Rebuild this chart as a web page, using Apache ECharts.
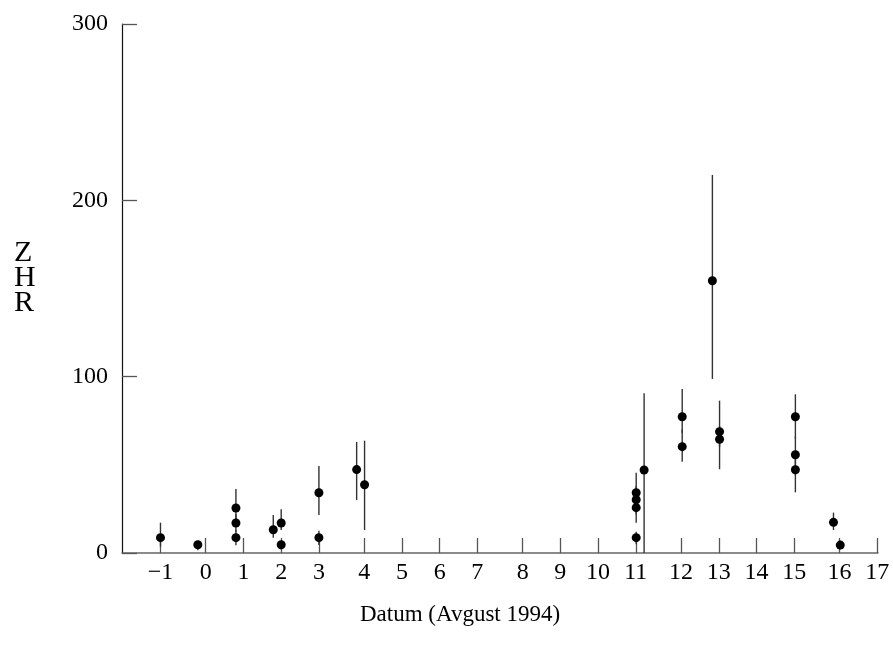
<!DOCTYPE html>
<html>
<head>
  <meta charset="utf-8">
  <title>ZHR</title>
  <script src="https://cdn.jsdelivr.net/npm/echarts@6/dist/echarts.min.js"></script>
  <style>
    html, body { margin: 0; padding: 0; background: #fff; }
    #main { width: 893px; height: 653px; }
  </style>
</head>
<body>
  <div id="main"></div>
  <script type="text/javascript">
    // tick positions on the x axis and their date labels
    var tickPos = [-1.2, 0, 1, 2, 3, 4.2, 5.2, 6.2, 7.2, 8.4, 9.4, 10.4, 11.4, 12.6, 13.6, 14.6, 15.6, 16.8, 17.8];
    var tickLabels = ['\u22121', '0', '1', '2', '3', '4', '5', '6', '7', '8', '9', '10', '11', '12', '13', '14', '15', '16', '17'];
    var yTicks = [0, 100, 200, 300];

    // observations: position, ZHR, lower and upper error
    var xPos    = [-1.2, -0.21, 0.8, 0.8, 0.8, 1.79, 2.0, 2.0, 3.0, 3.0, 4.0, 4.21, 11.41, 11.41, 11.41, 11.41, 11.62, 12.63, 12.63, 13.43, 13.62, 13.62, 15.63, 15.63, 15.63, 16.64, 16.82];
    var zhr     = [8.7, 4.7, 25.5, 17, 8.7, 13.2, 17, 4.7, 34.2, 8.7, 47.3, 38.7, 34.2, 30.2, 25.7, 8.7, 47.1, 77.3, 60.3, 154.4, 68.8, 64.5, 77.3, 55.7, 47.2, 17.4, 4.5];
    var zhrLow  = [3.6, 1.5, 19, 12, 4.4, 8.7, 13, 2, 21.5, 4.5, 30, 13, 28, 22, 17.2, 5, 0, 68, 51.8, 98.7, 60, 47.5, 65, 44, 34.4, 13, 2];
    var zhrHigh = [17.2, 7, 36.3, 22, 13, 21.5, 24.8, 7, 49.3, 12.6, 63, 63.7, 45.5, 38, 33, 12, 90.6, 93, 70, 214.4, 86.4, 72, 90, 66, 57, 22.9, 7];

    var points = xPos.map(function (x, i) { return [x, zhr[i]]; });
    var bars = xPos.map(function (x, i) { return [x, zhrLow[i], zhrHigh[i]]; });

    var font = '"Liberation Serif", "DejaVu Serif", serif';
    var myChart = echarts.init(document.getElementById('main'));

    var option = {
      animation: false,
      grid: { left: 122, right: 15, top: 24, bottom: 100 },
      xAxis: {
        type: 'value',
        min: -2.22,
        max: 17.82,
        axisLine: { onZero: false, lineStyle: { color: '#666', width: 1.5 } },
        axisTick: {
          inside: true, length: 15, customValues: tickPos,
          lineStyle: { color: '#555', width: 1.3 }
        },
        axisLabel: {
          customValues: tickPos,
          margin: 8,
          color: '#000',
          fontFamily: font,
          fontSize: 24,
          formatter: function (v) {
            var k = tickPos.indexOf(v);
            return k >= 0 ? tickLabels[k] : '';
          }
        },
        splitLine: { show: false }
      },
      yAxis: {
        type: 'value',
        min: 0,
        max: 300,
        interval: 100,
        axisLine: { show: true, onZero: false, lineStyle: { color: '#111', width: 1.2 } },
        axisTick: {
          show: true, inside: true, length: 15, customValues: yTicks,
          lineStyle: { color: '#555', width: 1.3 }
        },
        axisLabel: {
          customValues: yTicks,
          margin: 14,
          color: '#000',
          fontFamily: font,
          fontSize: 24
        },
        splitLine: { show: false }
      },
      graphic: [{
        type: 'text',
        left: 14,
        top: 238,
        style: {
          text: 'Z\nH\nR',
          fontFamily: font,
          fontSize: 30,
          lineHeight: 25,
          align: 'center',
          fill: '#000'
        }
      }, {
        type: 'text',
        left: 360,
        top: 603,
        style: {
          text: 'Datum (Avgust 1994)',
          fontFamily: font,
          fontSize: 23,
          fill: '#000'
        }
      }],
      series: [{
        type: 'custom',
        data: bars,
        encode: { x: 0, y: [1, 2] },
        renderItem: function (params, api) {
          var lo = api.coord([api.value(0), api.value(1)]);
          var hi = api.coord([api.value(0), api.value(2)]);
          return {
            type: 'line',
            shape: { x1: lo[0], y1: lo[1], x2: hi[0], y2: hi[1] },
            style: { stroke: '#333', lineWidth: 1.4 }
          };
        },
        z: 2
      }, {
        type: 'scatter',
        data: points,
        symbol: 'circle',
        symbolSize: 9,
        itemStyle: { color: '#000', opacity: 1 },
        z: 3
      }]
    };
    myChart.setOption(option);
  </script>
</body>
</html>
